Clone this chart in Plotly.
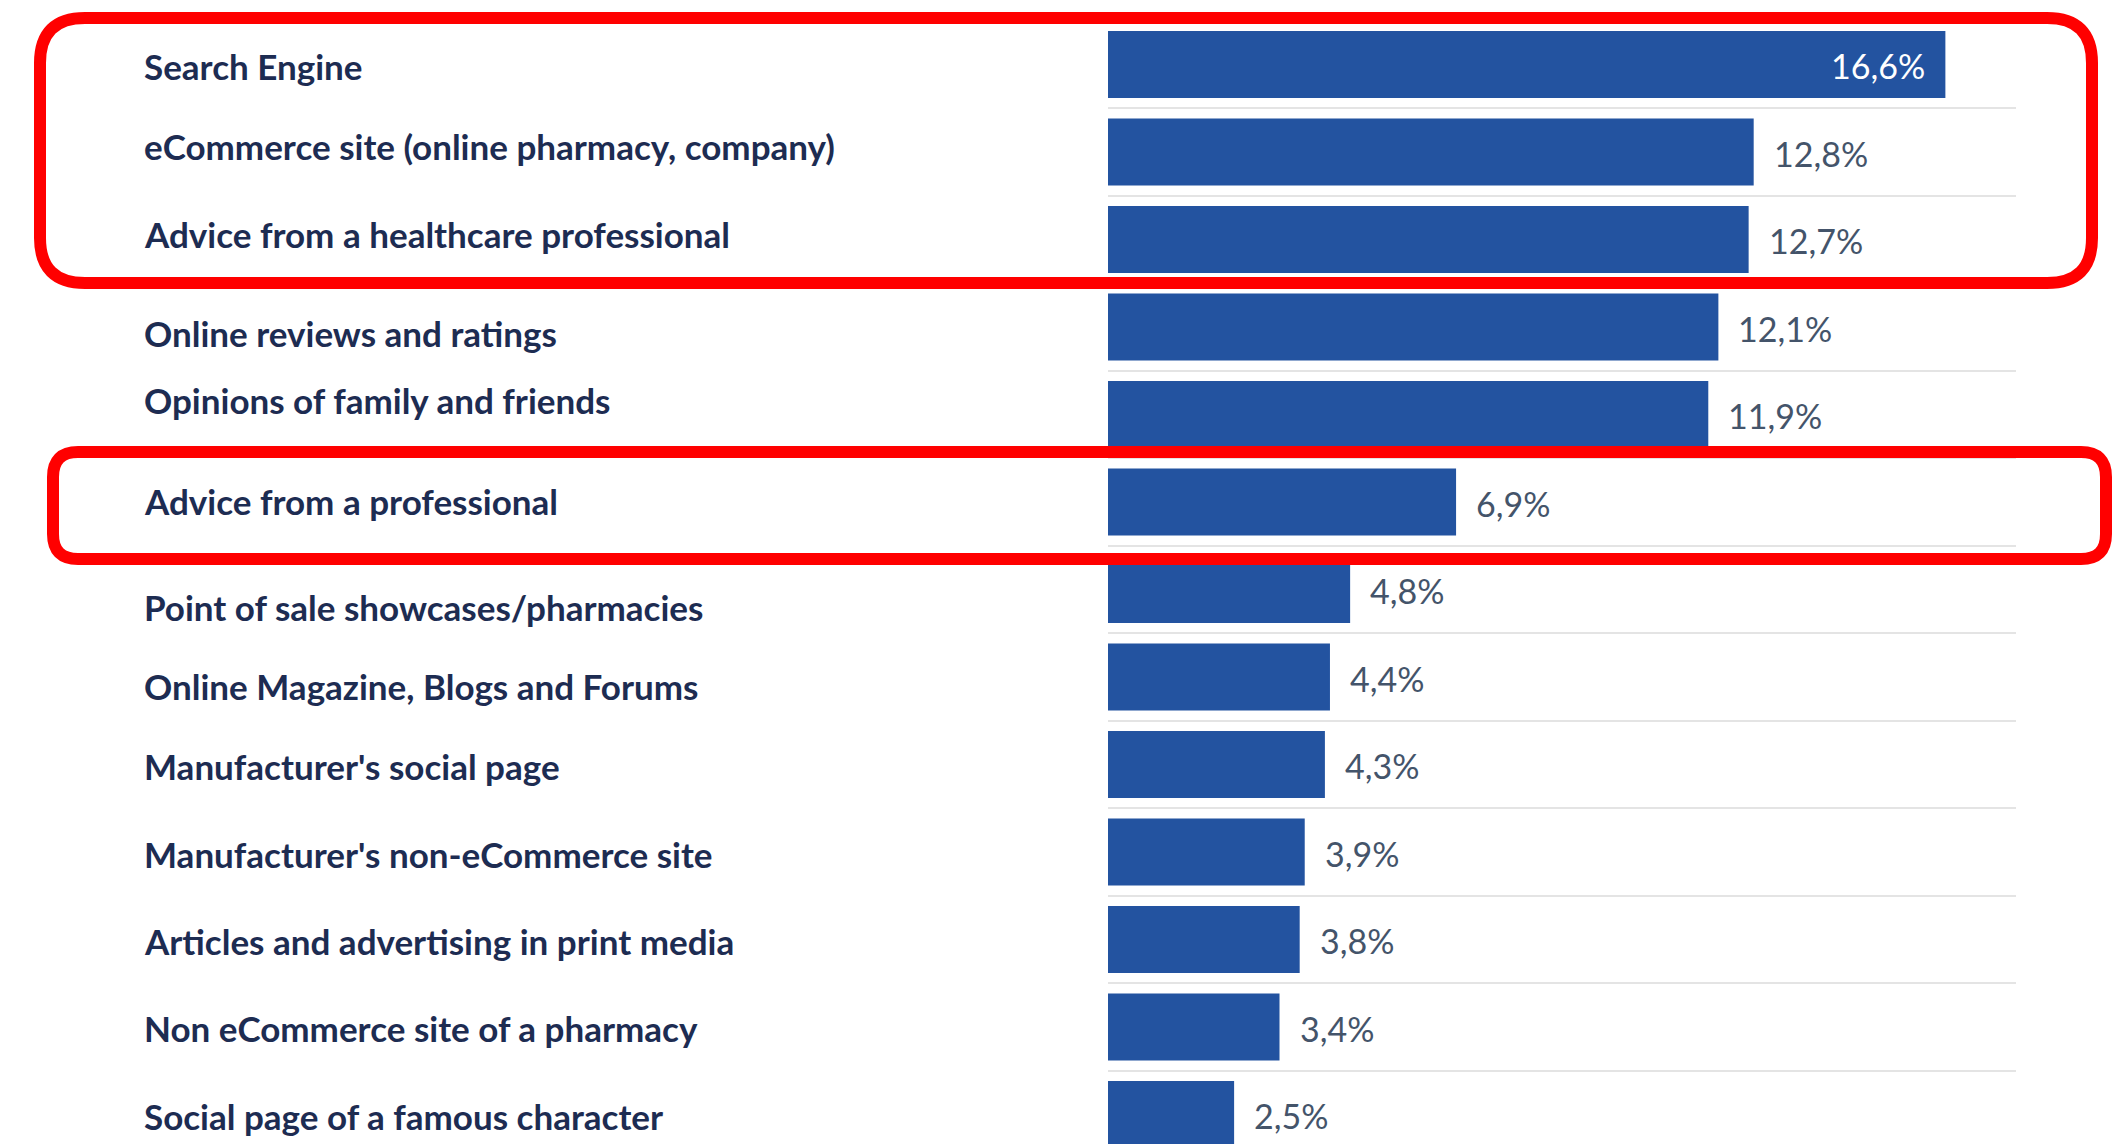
import plotly.graph_objects as go

# ==================== DATA ====================

SOURCES = [
  "Search Engine",
  "eCommerce site (online pharmacy, company)",
  "Advice from a healthcare professional",
  "Online reviews and ratings",
  "Opinions of family and friends",
  "Advice from a professional",
  "Point of sale showcases/pharmacies",
  "Online Magazine, Blogs and Forums",
  "Manufacturer's social page",
  "Manufacturer's non-eCommerce site",
  "Articles and advertising in print media",
  "Non eCommerce site of a pharmacy",
  "Social page of a famous character",
]

SHARE_PCT = [16.6, 12.8, 12.7, 12.1, 11.9, 6.9, 4.8, 4.4, 4.3, 3.9, 3.8, 3.4, 2.5]

# ==================== STYLE ====================

W, H = 2120, 1144
OFF = 8                               # page body margin in the browser
BAR_COLOR = "#2353a0"
LABEL_COLOR = "#1d2c52"
VALUE_COLOR = "#44546a"
GRID_COLOR = "#e4e4e4"
FONT = "Lato"

X_LEFT, X_RIGHT = 1108 - OFF, 2016 - OFF      # plot area in pixels
ROW0, ROW_STEP = 64.5 - OFF, 87.5             # first row centre, row pitch (px)
Y_RANGE = [(H - ROW0) / ROW_STEP, -ROW0 / ROW_STEP]   # reversed category axis

# small vertical nudges (px, +down) so labels sit like the original
LABEL_SHIFT = [1, -6, -6, 6, -15, -1, 17, 9, 1, 2, 1, 1, 1]


def px_x(p):
  return (p - OFF) / W


def px_y(p):
  return 1 - (p - OFF) / H


def rounded_rect(x0, y0, x1, y1, r):
  """SVG path (paper coords) for a rounded rectangle given in screen pixels."""
  pts = [
    f"M {px_x(x0 + r)},{px_y(y0)}",
    f"L {px_x(x1 - r)},{px_y(y0)}",
    f"Q {px_x(x1)},{px_y(y0)} {px_x(x1)},{px_y(y0 + r)}",
    f"L {px_x(x1)},{px_y(y1 - r)}",
    f"Q {px_x(x1)},{px_y(y1)} {px_x(x1 - r)},{px_y(y1)}",
    f"L {px_x(x0 + r)},{px_y(y1)}",
    f"Q {px_x(x0)},{px_y(y1)} {px_x(x0)},{px_y(y1 - r)}",
    f"L {px_x(x0)},{px_y(y0 + r)}",
    f"Q {px_x(x0)},{px_y(y0)} {px_x(x0 + r)},{px_y(y0)}",
    "Z",
  ]
  return " ".join(pts)


fig = go.Figure()

fig.add_trace(go.Bar(
  x=SHARE_PCT,
  y=SOURCES,
  orientation="h",
  marker=dict(color=BAR_COLOR, line=dict(width=0)),
  hoverinfo="skip",
  showlegend=False,
))

annotations = []
for i, (name, val) in enumerate(zip(SOURCES, SHARE_PCT)):
  # category label, left aligned
  annotations.append(dict(
    x=px_x(142), xref="paper", xanchor="left",
    y=name, yref="y", yanchor="middle", yshift=-LABEL_SHIFT[i],
    text=name, showarrow=False,
    font=dict(family=FONT, size=35, color=LABEL_COLOR, weight="bold"),
  ))
  # value label: inside for the longest bar, outside otherwise
  txt = f"{val:.1f}%".replace(".", ",")
  inside = val == max(SHARE_PCT)
  annotations.append(dict(
    x=val, xref="x", xanchor="right" if inside else "left",
    xshift=-18 if inside else 18,
    y=name, yref="y", yanchor="middle", yshift=-1,
    text=txt, showarrow=False,
    font=dict(family=FONT, size=34, color="white" if inside else VALUE_COLOR),
  ))

# red highlight frames
frames = [
  rounded_rect(40, 18, 2092, 283, 45),
  rounded_rect(53, 452, 2106, 559, 25),
]
shapes = [
  dict(type="path", path=p, xref="paper", yref="paper",
       line=dict(color="#ff0000", width=12), fillcolor="rgba(0,0,0,0)")
  for p in frames
]

fig.update_layout(
  width=W, height=H,
  margin=dict(l=0, r=0, t=0, b=0),
  paper_bgcolor="white",
  plot_bgcolor="white",
  bargap=0.234,
  annotations=annotations,
  shapes=shapes,
  xaxis=dict(
    domain=[X_LEFT / W, X_RIGHT / W],
    range=[0, 18],
    showgrid=False, zeroline=False, showticklabels=False, ticks="",
  ),
  yaxis=dict(
    type="category",
    categoryorder="array", categoryarray=SOURCES,
    range=Y_RANGE,
    tickson="boundaries",
    showgrid=True, gridcolor=GRID_COLOR, gridwidth=2,
    showticklabels=False, ticks="", zeroline=False, showline=False,
  ),
)

fig.write_html("out.html")
